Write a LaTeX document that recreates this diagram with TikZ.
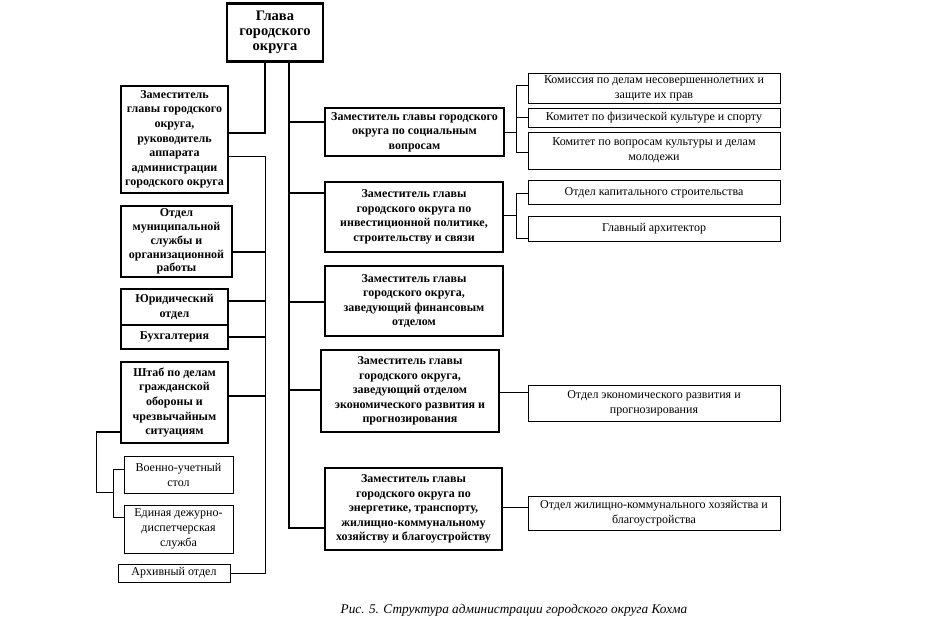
\documentclass[tikz,border=0pt]{standalone}
\usepackage{fontspec}
\setmainfont{Liberation Serif}
\begin{document}
\begin{tikzpicture}[x=1pt,y=-1pt,
  bbox/.style={draw, line width=2.6pt, align=center, inner sep=0pt, font=\bfseries\fontsize{12}{14.6}\selectfont},
  tbox/.style={draw, line width=0.8pt, align=center, inner sep=0pt, font=\fontsize{12}{15}\selectfont},
  thickln/.style={line width=2.6pt},
  thinln/.style={line width=0.8pt}]
\useasboundingbox (0,0) rectangle (929,626);
% head
\node[bbox, minimum width=96pt, minimum height=58pt, font=\bfseries\fontsize{14.5}{14.8}\selectfont] (head) at (275,32.5) {Глава\\городского\\округа};
% left column
\node[bbox, minimum width=107pt, minimum height=107pt] (dep1) at (174.5,139.5) {Заместитель\\главы городского\\округа,\\руководитель\\аппарата\\администрации\\городского округа};
\node[bbox, minimum width=111pt, minimum height=71pt, font=\bfseries\fontsize{12}{13.9}\selectfont] (omsl) at (176.5,241.5) {Отдел\\муниципальной\\службы и\\организационной\\работы};
\node[bbox, minimum width=107pt, minimum height=36pt] (yur) at (174.5,307) {Юридический\\отдел};
\node[bbox, minimum width=107pt, minimum height=24pt] (buh) at (174.5,337) {Бухгалтерия};
\node[bbox, minimum width=107pt, minimum height=81pt] (shtab) at (174.5,402.5) {Штаб по делам\\гражданской\\обороны и\\чрезвычайным\\ситуациям};
\node[tbox, minimum width=109pt, minimum height=37pt] (voen) at (178.5,474.5) {Военно-учетный\\стол};
\node[tbox, minimum width=109pt, minimum height=48pt] (edds) at (178.5,529) {Единая дежурно-\\диспетчерская\\служба};
\node[tbox, minimum width=112pt, minimum height=18pt] (arch) at (174,573) {Архивный отдел};
% middle column
\node[bbox, minimum width=179pt, minimum height=48pt] (soc) at (414.5,132) {Заместитель главы городского\\округа по социальным\\вопросам};
\node[bbox, minimum width=178pt, minimum height=70pt] (inv) at (414,217) {Заместитель главы\\городского округа по\\инвестиционной политике,\\строительству и связи};
\node[bbox, minimum width=178pt, minimum height=70pt] (fin) at (414,301) {Заместитель главы\\городского округа,\\заведующий финансовым\\отделом};
\node[bbox, minimum width=178pt, minimum height=82pt] (eco) at (410,391) {Заместитель главы\\городского округа,\\заведующий отделом\\экономического развития и\\прогнозирования};
\node[bbox, minimum width=177pt, minimum height=82pt] (zkh) at (413.5,509) {Заместитель главы\\городского округа по\\энергетике, транспорту,\\жилищно-коммунальному\\хозяйству и благоустройству};
% right column
\node[tbox, minimum width=252pt, minimum height=30pt] (kom) at (654,88) {Комиссия по делам несовершеннолетних и\\защите их прав};
\node[tbox, minimum width=252pt, minimum height=19pt] (fiz) at (654,117.5) {Комитет по физической культуре и спорту};
\node[tbox, minimum width=252pt, minimum height=37pt] (kult) at (654,150.5) {Комитет по вопросам культуры и делам\\молодежи};
\node[tbox, minimum width=252pt, minimum height=24pt] (kap) at (654,192.5) {Отдел капитального строительства};
\node[tbox, minimum width=252pt, minimum height=25pt] (arh) at (654,228.5) {Главный архитектор};
\node[tbox, minimum width=252pt, minimum height=36pt] (oer) at (654,403) {Отдел экономического развития и\\прогнозирования};
\node[tbox, minimum width=252pt, minimum height=34pt] (ozkh) at (654,513) {Отдел жилищно-коммунального хозяйства и\\благоустройства};
% caption
\node[font=\itshape\fontsize{13.3}{14}\selectfont, inner sep=0pt] (cap) at (514,610) {Рис. 5. Структура администрации городского округа Кохма};
% junction coordinates
\coordinate (j1) at (265,133);
\coordinate (lv) at (265,156);
\coordinate (bo) at (265,252);
\coordinate (by) at (265,301);
\coordinate (bs) at (265,396);
\coordinate (s1) at (96,432);
\coordinate (s2) at (113,492);
\coordinate (s3) at (113,469);
\coordinate (s4) at (113,517);
\coordinate (m0) at (289,528);
\coordinate (m1) at (289,122);
\coordinate (m2) at (289,193);
\coordinate (m3) at (289,302);
\coordinate (m4) at (289,390);
\coordinate (r1) at (516,132);
\coordinate (r1a) at (516,85);
\coordinate (r1b) at (516,152);
\coordinate (r2) at (516,215);
\coordinate (r2a) at (516,193);
\coordinate (r2b) at (516,238);
\coordinate (r3) at (516,392);
\coordinate (r4) at (516,507);
% left connectors
\draw[thickln] (head.south -| j1) -- (j1) -- (dep1.east |- j1);
\draw[thinln] (dep1.east |- lv) -- (lv) -- (lv |- arch.east) -- (arch.east);
\draw[thickln] (omsl.east |- bo) -- (bo);
\draw[thickln] (yur.east |- by) -- (by);
\draw[thickln] (buh.east) -- (buh.east -| lv);
\draw[thickln] (shtab.east |- bs) -- (bs);
\draw[thickln] (shtab.west |- s1) -- (s1);
\draw[thinln] (s1) |- (s2);
\draw[thinln] (voen.west |- s3) -- (s3) -- (s4) -- (edds.west |- s4);
% middle connectors
\draw[thickln] (head.south -| m0) -- (m0) -- (zkh.west |- m0);
\draw[thickln] (m1) -- (soc.west |- m1);
\draw[thickln] (m2) -- (inv.west |- m2);
\draw[thickln] (m3) -- (fin.west |- m3);
\draw[thickln] (m4) -- (eco.west |- m4);
% right connectors
\draw[thinln] (soc.east |- r1) -- (r1);
\draw[thinln] (kom.west |- r1a) -- (r1a) -- (r1b) -- (kult.west |- r1b);
\draw[thinln] (fiz.west -| r1) -- (fiz.west);
\draw[thinln] (inv.east |- r2) -- (r2);
\draw[thinln] (kap.west |- r2a) -- (r2a) -- (r2b) -- (arh.west |- r2b);
\draw[thinln] (eco.east |- r3) -- (oer.west |- r3);
\draw[thinln] (zkh.east |- r4) -- (ozkh.west |- r4);
\end{tikzpicture}
\end{document}
